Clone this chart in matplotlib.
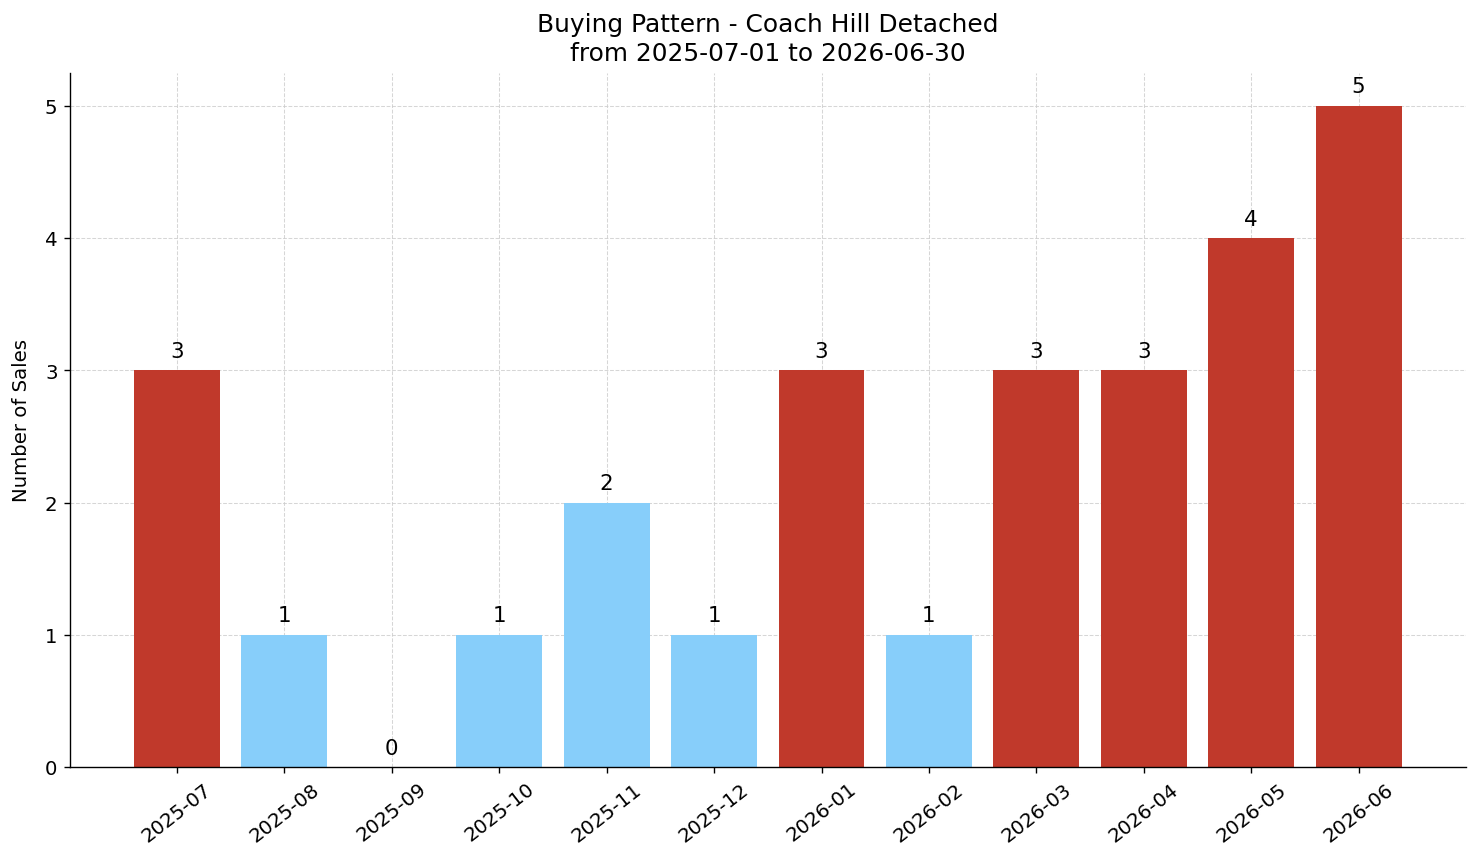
import matplotlib.pyplot as plt
import numpy as np

months = ["2025-07", "2025-08", "2025-09", "2025-10", "2025-11", "2025-12",
          "2026-01", "2026-02", "2026-03", "2026-04", "2026-05", "2026-06"]
sales = [3, 1, 0, 1, 2, 1, 3, 1, 3, 3, 4, 5]
hot_threshold = 3

colors = ["#c0392b" if s >= hot_threshold else "#87cefa" for s in sales]

fig, ax = plt.subplots(figsize=(12, 7), dpi=123.4)
x = np.arange(len(months))
bars = ax.bar(x, sales, color=colors, width=0.8, zorder=2)

for b, s in zip(bars, sales):
    ax.text(b.get_x() + b.get_width() / 2, s + 0.07, str(s),
            ha="center", va="bottom", fontsize=12.5)

ax.set_xticks(x)
ax.set_xticklabels(months, rotation=38, fontsize=11.5)
ax.tick_params(axis="y", labelsize=11.5)
ax.set_xlim(-1, len(months))
ax.set_ylim(0, max(sales) * 1.05)
ax.set_ylabel("Number of Sales", fontsize=11.5, labelpad=8)
ax.set_title("Buying Pattern - Coach Hill Detached\nfrom 2025-07-01 to 2026-06-30",
             fontsize=14.5, linespacing=1.3, pad=7)
ax.grid(True, linestyle="--", color="#cccccc", alpha=0.8, linewidth=0.6, zorder=0)
ax.spines["top"].set_visible(False)
ax.spines["right"].set_visible(False)

plt.subplots_adjust(left=0.047, right=0.99, top=0.915, bottom=0.111)
plt.savefig("out.png")
